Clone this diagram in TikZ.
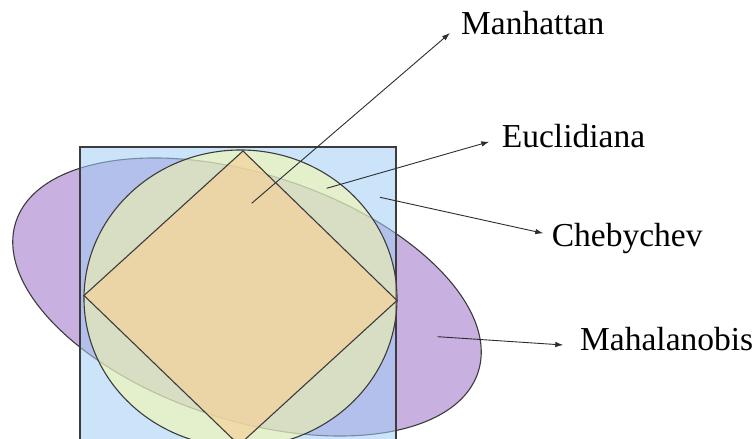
\documentclass[tikz,border=0pt]{standalone}
\usepackage{fontspec}
\setmainfont{Liberation Serif}
\usetikzlibrary{arrows.meta}

\definecolor{ellfill}{RGB}{200,176,224}
\definecolor{sqfill}{RGB}{162,206,246}
\definecolor{circfill}{RGB}{252,252,158}
\definecolor{diafill}{RGB}{246,209,152}
\definecolor{edge}{RGB}{60,60,60}
\definecolor{arrowline}{RGB}{45,45,45}

\tikzset{
  shapeline/.style={draw=edge, line width=1.1pt},
  pointer/.style={draw=arrowline, line width=0.9pt, -{Latex[length=8pt,width=5.5pt]}},
  label/.style={inner sep=0pt, font=\fontsize{33.5}{40}\selectfont, anchor=base west},
}

\begin{document}
\begin{tikzpicture}[x=1pt, y=1pt]
  \useasboundingbox (0,0) rectangle (756,439);
  \clip (0,0) rectangle (756,439);

  % Mahalanobis region: tilted ellipse
  \path[shapeline, fill=ellfill, rotate around={-18:(247,142)}]
    (247,142) ellipse [x radius=243, y radius=123];

  % Chebychev region: square (translucent fill)
  \path[shapeline, fill=sqfill, fill opacity=0.55] (80,-30) rectangle (396,292);

  % Euclidean region: disc
  \path[shapeline, fill=circfill, fill opacity=0.5]
    (240.5,140.5) ellipse [x radius=156.5, y radius=148.5];

  % Manhattan region: diamond
  \path[shapeline, fill=diafill, fill opacity=0.65]
    (243,288) -- (397,138.5) -- (239,-6) -- (84,143.5) -- cycle;

  % labels
  \node[label] (manhattan)   at (461,404)   {Manhattan};
  \node[label] (euclidiana)  at (501.7,291) {Euclidiana};
  \node[label] (chebychev)   at (551.7,192.3) {Chebychev};
  \node[label] (mahalanobis) at (580,88.3)  {Mahalanobis};

  % pointer origins inside each region
  \coordinate (pManhattan)   at (251.7,235.7);
  \coordinate (pEuclidiana)  at (326.7,250.7);
  \coordinate (pChebychev)   at (380,241.7);
  \coordinate (pMahalanobis) at (437.7,102.3);

  \draw[pointer] (pManhattan)   -- ([xshift=-11pt,yshift=2pt]manhattan.base west);
  \draw[pointer] (pEuclidiana)  -- ([xshift=-12.4pt,yshift=6.3pt]euclidiana.base west);
  \draw[pointer] (pChebychev)   -- ([xshift=-8.4pt,yshift=13.4pt]chebychev.base west);
  \draw[pointer] (pMahalanobis) -- ([xshift=-16.7pt,yshift=5.7pt]mahalanobis.base west);
\end{tikzpicture}
\end{document}
